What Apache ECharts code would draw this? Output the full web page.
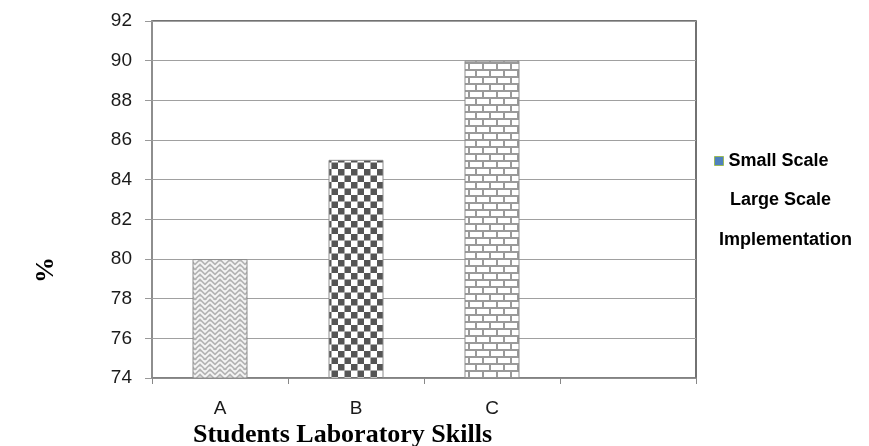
<!DOCTYPE html>
<html>
<head>
<meta charset="utf-8">
<script src="https://cdn.jsdelivr.net/npm/echarts@6/dist/echarts.min.js"></script>
<style>
html,body{margin:0;padding:0;background:#fff;}
#chart{width:869px;height:446px;}
</style>
</head>
<body>
<div id="chart"></div>
<script>
// ---- data ----
const categories = ['A', 'B', 'C', ''];
const seriesNames = ['Small Scale', 'Large Scale', 'Implementation'];
const smallScale = [80, null, null, null];
const largeScale = [null, 85, null, null];
const implementation = [null, null, 90, null];
const yMin = 74, yMax = 92, yStep = 2;
const xTitle = 'Students Laboratory Skills';
const yTitle = '%';

// ---- patterns ----
function makeCanvas(w, h, draw) {
  const c = document.createElement('canvas');
  c.width = w; c.height = h;
  draw(c.getContext('2d'), w, h);
  return c;
}
const herring = makeCanvas(10, 10, (g, w, h) => {
  g.fillStyle = '#b4b4b4'; g.fillRect(0, 0, w, h);
  g.strokeStyle = '#f6f6f6'; g.lineWidth = 1.8;
  g.beginPath();
  g.moveTo(0, 2); g.lineTo(5, 7); g.lineTo(10, 2);
  g.moveTo(0, 7); g.lineTo(3, 10);
  g.moveTo(10, 7); g.lineTo(7, 10);
  g.moveTo(2, -1); g.lineTo(5, 2); g.lineTo(8, -1);
  g.stroke();
});
const checker = makeCanvas(13, 13, (g, w, h) => {
  g.fillStyle = '#ffffff'; g.fillRect(0, 0, w, h);
  g.fillStyle = '#555555';
  g.fillRect(0, 0, 6.5, 6.5); g.fillRect(6.5, 6.5, 6.5, 6.5);
});
const brick = makeCanvas(14, 14, (g, w, h) => {
  g.fillStyle = '#9a9a9a'; g.fillRect(0, 0, w, h);
  g.fillStyle = '#ffffff';
  g.fillRect(1, 1, 12, 5);
  g.fillRect(8, 8, 12, 5); g.fillRect(-6, 8, 12, 5);
});

const chart = echarts.init(document.getElementById('chart'), null, {renderer: 'canvas'});
const barStyle = (img) => ({
  color: {image: img, repeat: 'repeat'},
  borderColor: '#8c8c8c',
  borderWidth: 1
});
const legendText = {fontFamily: 'Liberation Sans', fontWeight: 'bold', fontSize: 18, color: '#000'};
chart.setOption({
  animation: false,
  backgroundColor: '#ffffff',
  grid: {
    left: 152, right: 173, top: 21, bottom: 68,
    show: true, borderColor: '#444', borderWidth: 1.5, backgroundColor: 'transparent'
  },
  title: {
    text: xTitle,
    left: 193, top: 422, padding: 0,
    textStyle: {fontFamily: 'Liberation Serif', fontWeight: 'bold', fontSize: 26, color: '#000'}
  },
  graphic: [{
    type: 'text',
    left: 33, top: 257,
    rotation: Math.PI / 2,
    style: {text: yTitle, font: 'bold 26px "Liberation Serif"', fill: '#000'}
  }],
  legend: [
    {
      left: 709, top: 147, itemWidth: 9, itemHeight: 9, itemGap: 0, selectedMode: false,
      textStyle: legendText,
      data: [{name: seriesNames[0], icon: 'rect', itemStyle: {color: '#4F81BD', borderColor: '#9BBB59', borderWidth: 1}}]
    },
    {
      left: 710, top: 186, itemWidth: 9, itemHeight: 9, itemGap: 0, selectedMode: false,
      textStyle: legendText,
      data: [{name: seriesNames[1], icon: 'rect', itemStyle: {opacity: 0}}]
    },
    {
      left: 699, top: 226, itemWidth: 9, itemHeight: 9, itemGap: 0, selectedMode: false,
      textStyle: legendText,
      data: [{name: seriesNames[2], icon: 'rect', itemStyle: {opacity: 0}}]
    }
  ],
  xAxis: {
    type: 'category',
    data: categories,
    axisLine: {lineStyle: {color: '#888', width: 1.5}},
    axisTick: {show: true, length: 6, lineStyle: {color: '#888'}},
    axisLabel: {margin: 21, fontFamily: 'Liberation Sans', fontSize: 19, color: '#1a1a1a'}
  },
  yAxis: {
    type: 'value',
    min: yMin, max: yMax, interval: yStep,
    axisLine: {show: true, lineStyle: {color: '#999', width: 1.5}},
    axisTick: {show: true, length: 7, lineStyle: {color: '#999'}},
    axisLabel: {margin: 20, fontFamily: 'Liberation Sans', fontSize: 19, color: '#1a1a1a'},
    splitLine: {lineStyle: {color: '#a0a0a0', width: 1.2}}
  },
  series: [
    {name: seriesNames[0], type: 'bar', data: smallScale, barWidth: 55, barGap: '-100%', itemStyle: barStyle(herring)},
    {name: seriesNames[1], type: 'bar', data: largeScale, barWidth: 55, barGap: '-100%', itemStyle: barStyle(checker)},
    {name: seriesNames[2], type: 'bar', data: implementation, barWidth: 55, barGap: '-100%', itemStyle: barStyle(brick)}
  ]
});
</script>
</body>
</html>
